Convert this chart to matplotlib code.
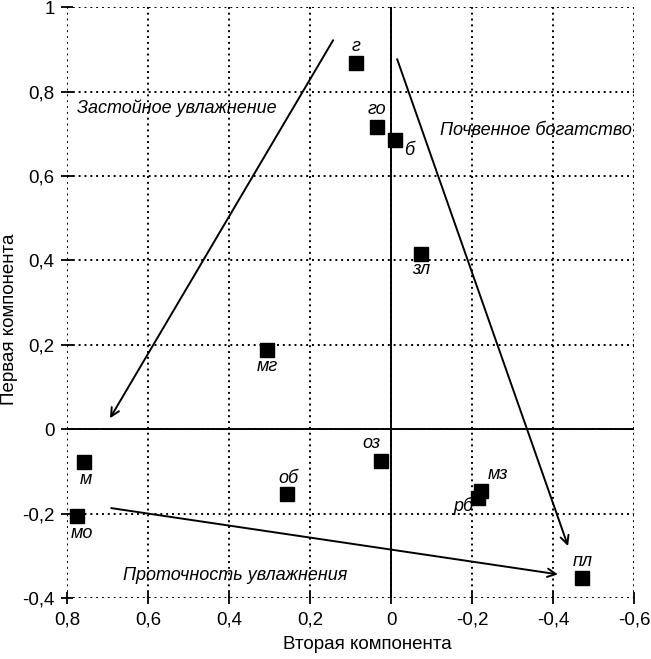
import matplotlib
matplotlib.use("Agg")
import matplotlib.pyplot as plt
from matplotlib.ticker import FuncFormatter, MultipleLocator

plt.rcParams['font.family'] = ['Liberation Sans', 'DejaVu Sans']

# точки: (вторая компонента, первая компонента)
names = ["г", "го", "б", "зл", "мг", "м", "мо", "об", "оз", "мз", "рб", "пл"]
comp2 = [0.086, 0.035, -0.010, -0.074, 0.306, 0.758, 0.775, 0.257, 0.025, -0.222, -0.215, -0.472]
comp1 = [0.867, 0.716, 0.685, 0.415, 0.187, -0.078, -0.206, -0.154, -0.076, -0.147, -0.163, -0.353]
# смещения подписей в пикселях
offsets = [(0, 17), (0, 18), (14, -10), (0, -15), (0, -16), (2, -17), (5, -17), (1, 16),
           (-9, 18), (17, 17), (-15, -8), (0, 17)]

# стрелки: начало -> конец
arrows = [((0.143, 0.922), (0.694, 0.026)),
          ((-0.015, 0.877), (-0.437, -0.277)),
          ((0.691, -0.187), (-0.412, -0.344))]
notes = [("Застойное увлажнение", 0.775, 0.761),
         ("Почвенное богатство", -0.121, 0.709),
         ("Проточность увлажнения", 0.662, -0.346)]

fig = plt.figure(figsize=(6.51, 6.59), dpi=100)
ax = fig.add_axes([0.103, 0.0926, 0.871, 0.8964])

ax.set_xlim(0.8, -0.6)
ax.set_ylim(-0.4, 1.0)
ax.xaxis.set_major_locator(MultipleLocator(0.2))
ax.yaxis.set_major_locator(MultipleLocator(0.2))

def fmt(v, pos):
    s = "%.1f" % v
    if s in ("-0.0", "0.0"):
        return "0"
    if s == "1.0":
        return "1"
    return s.replace(".", ",")

ax.xaxis.set_major_formatter(FuncFormatter(fmt))
ax.yaxis.set_major_formatter(FuncFormatter(fmt))

for sp in ax.spines.values():
    sp.set_visible(False)
ax.grid(True, color="black", linestyle=(0, (1, 2)), linewidth=1.4)
ax.axhline(0, color="black", linewidth=1.4)
ax.axvline(0, color="black", linewidth=1.4)
ax.tick_params(direction="inout", length=8, width=1.3, labelsize=13.5)
ax.tick_params(axis="x", pad=6)
ax.tick_params(axis="y", pad=5)

ax.plot(comp2, comp1, "s", color="black", markersize=10.5, zorder=5)
for n, x, y, (dx, dy) in zip(names, comp2, comp1, offsets):
    ax.annotate(n, (x, y), xytext=(dx, dy), textcoords="offset pixels",
                ha="center", va="center", fontsize=13, style="italic")

for (x0, y0), (x1, y1) in arrows:
    ax.annotate("", xy=(x1, y1), xytext=(x0, y0),
                arrowprops=dict(arrowstyle="->", color="black", lw=1.4,
                                mutation_scale=15, shrinkA=0, shrinkB=0))

for t, x, y in notes:
    ax.text(x, y, t, ha="left", va="center", fontsize=13, style="italic")

ax.set_xlabel("Вторая компонента", fontsize=13.5)
ax.set_ylabel("Первая компонента", fontsize=13.5)
ax.xaxis.set_label_coords(0.529, -0.064)
ax.yaxis.set_label_coords(-0.086, 0.472)

fig.savefig("out.png", dpi=100)
